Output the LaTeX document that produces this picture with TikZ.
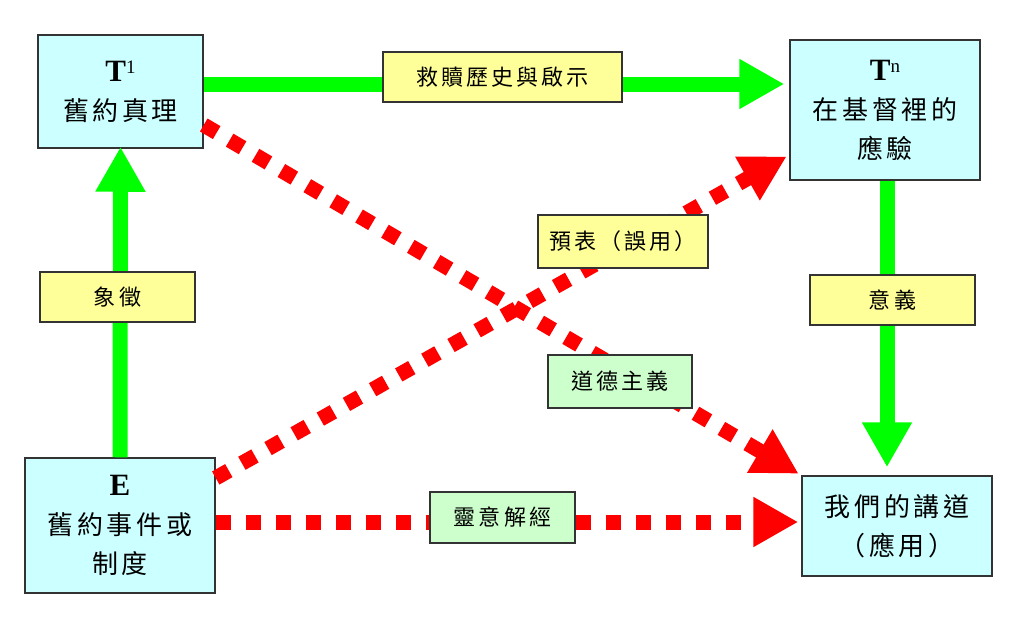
\documentclass[tikz,border=0pt]{standalone}
\usepackage{fontspec}
\setmainfont{Liberation Serif}
\newfontfamily\cjk[LetterSpace=14]{Noto Sans CJK TC}
\usetikzlibrary{arrows.meta}
\definecolor{boxcyan}{HTML}{CCFFFF}
\definecolor{noteyellow}{HTML}{FFFF99}
\definecolor{notegreen}{HTML}{CCFFCC}
\definecolor{linegreen}{HTML}{00FF00}
\definecolor{linered}{HTML}{FF0000}
\definecolor{edgegray}{HTML}{333333}
\newcommand{\stagemark}[2]{{\rmfamily\bfseries\fontsize{31}{36}\selectfont #1\raisebox{0.55ex}{\mdseries\fontsize{19}{19}\selectfont #2}}}
\tikzset{
    stage/.style={draw=edgegray, line width=1.5pt, fill=boxcyan, inner sep=0pt,
        align=center, font=\cjk\fontsize{26}{39}\selectfont},
    note/.style={draw=edgegray, line width=1.5pt, fill=noteyellow, inner sep=0pt,
        font=\cjk\fontsize{22}{26}\selectfont},
    greennote/.style={note, fill=notegreen},
    meaning/.style={draw=linegreen, line width=15pt,
        -{Triangle[length=45pt,width=47pt]}},
    misuse/.style={draw=linered, line width=15pt, dash pattern=on 15pt off 15pt,
        -{Triangle[length=45pt,width=47pt]}, shorten >=3pt}
}
\begin{document}
\begin{tikzpicture}[x=1pt, y=-1pt]
    \useasboundingbox (0,0) rectangle (1024,626);

    % the four stages
    \node[stage, minimum width=165pt, minimum height=113pt] (oldtruth) at (120.5,91.5)
        {\stagemark{T}{1}\\舊約真理};
    \node[stage, minimum width=190pt, minimum height=140pt] (fulfil) at (885,110)
        {\stagemark{T}{n}\\在基督裡的\\應驗};
    \node[stage, minimum width=190pt, minimum height=135pt] (event) at (120,525.5)
        {\stagemark{E}{}\\舊約事件或\\制度};
    \node[stage, minimum width=190pt, minimum height=100pt] (preach) at (897,526)
        {我們的講道\\（應用）};

    % connectors
    \draw[meaning, shorten >=5pt] (oldtruth.east |- 0,84) -- (fulfil.west |- 0,84);
    \draw[meaning, shorten >=-2pt] (event.north) -- (oldtruth.south);
    \draw[meaning, shorten >=8pt] (fulfil.south -| 887,0) -- (preach.north -| 887,0);
    \draw[misuse] (oldtruth.east |- 0,125) -- (preach.north west);
    \draw[misuse] (event.east |- 0,478) -- (fulfil.west |- 0,155);
    \draw[misuse] (event.east |- 0,522) -- (preach.west |- 0,522);

    % labels on the connectors
    \node[note, minimum width=239pt, minimum height=50pt] (history) at (502.5,77) {救贖歷史與啟示};
    \node[note, minimum width=170pt, minimum height=53pt] (typology) at (623,241.5) {預表（誤用）};
    \node[note, minimum width=155pt, minimum height=50pt] (symbol) at (117.5,297) {象徵};
    \node[note, minimum width=165pt, minimum height=50pt] (sense) at (892.5,300) {意義};
    \node[greennote, minimum width=144pt, minimum height=53pt] (moral) at (620,381.5) {道德主義};
    \node[greennote, minimum width=145pt, minimum height=51pt] (allegory) at (502.5,517.5) {靈意解經};
\end{tikzpicture}
\end{document}
